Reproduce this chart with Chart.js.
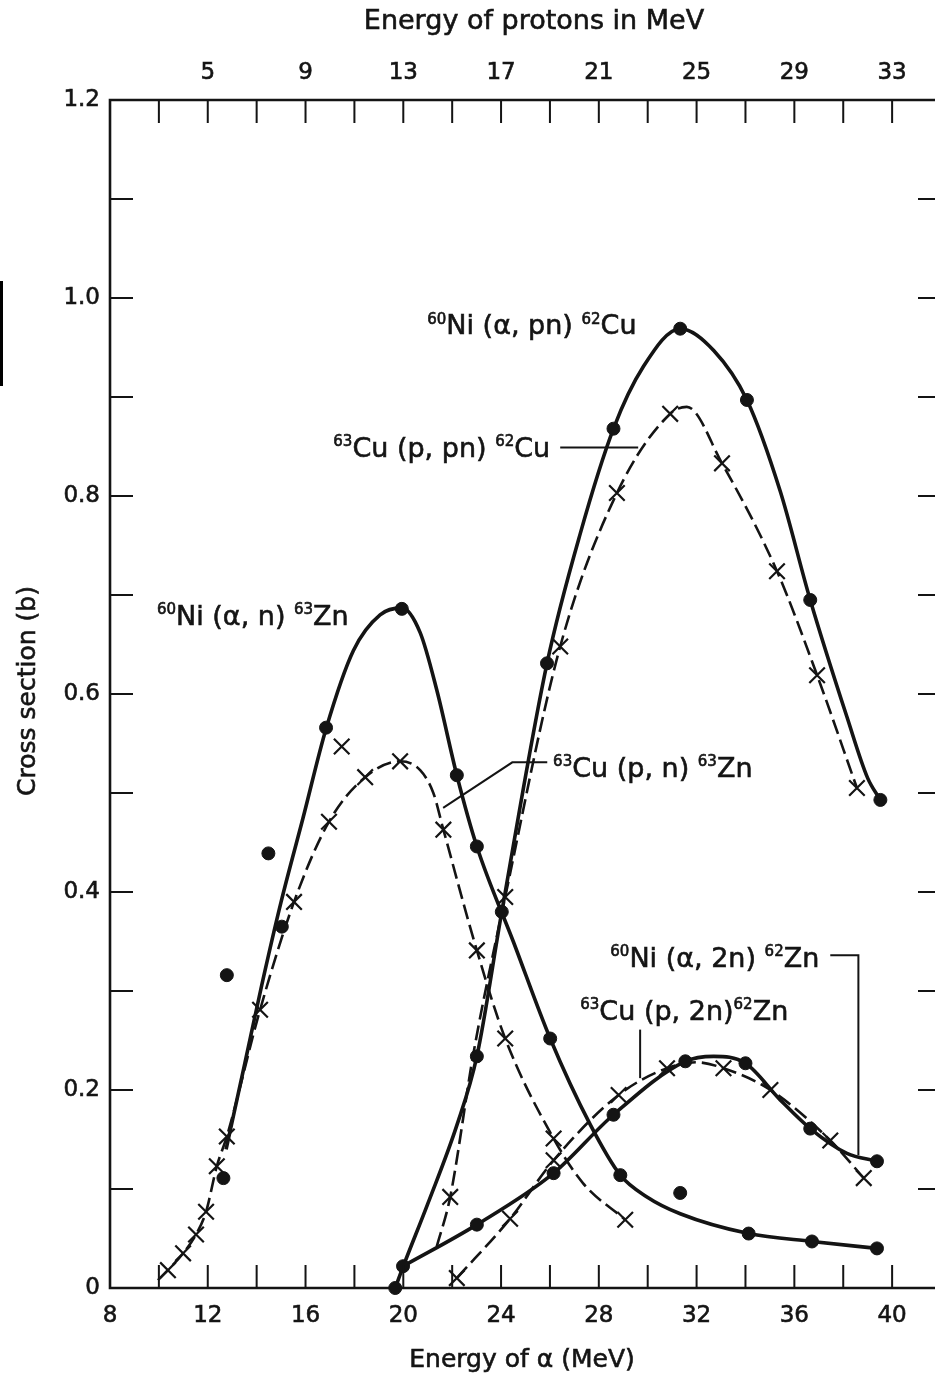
<!DOCTYPE html>
<html><head><meta charset="utf-8">
<script src="https://cdn.jsdelivr.net/npm/chart.js@4.4.1/dist/chart.umd.min.js"></script>
<style>
html,body{margin:0;padding:0;background:#fff;overflow:hidden;width:935px;height:1377px;}
#wrap{position:relative;width:935px;height:1377px;overflow:hidden;}
canvas{display:block;}
#scanbar{position:absolute;left:0;top:281px;width:3px;height:105px;background:#000;}
</style></head><body>
<div id="wrap"><canvas id="c" width="945" height="1377"></canvas><div id="scanbar"></div></div>
<script>
// ---------- values ----------
// 60Ni(α,n)63Zn : measured points (filled circles)
const niAnX = [12.64, 15.03, 16.84, 19.94, 22.19, 23.01, 26.01, 28.88, 34.13, 36.72, 39.38, 12.78, 14.48, 31.33];
const niAnY = [0.111, 0.365, 0.566, 0.686, 0.518, 0.446, 0.252, 0.114, 0.055, 0.047, 0.040, 0.316, 0.439, 0.096];
// 60Ni(α,n)63Zn : drawn curve
const niAnCurveX = [12.75, 13.5, 14.2, 15.0, 15.9, 16.84, 17.96, 19.05, 19.94, 20.69, 21.37, 22.19, 23.01, 24.5, 26.01, 27.65, 28.88, 29.97, 31.33, 34.13, 36.72, 39.38];
const niAnCurveY = [0.14, 0.225, 0.305, 0.39, 0.475, 0.565, 0.644, 0.680, 0.687, 0.662, 0.604, 0.518, 0.446, 0.350, 0.252, 0.165, 0.114, 0.092, 0.075, 0.055, 0.047, 0.040];

// 63Cu(p,n)63Zn : measured points (crosses)
const cuPnX = [10.37, 10.99, 11.52, 11.93, 12.37, 12.78, 14.14, 15.53, 16.96, 17.48, 18.44, 19.87, 21.64, 23.01, 24.17, 26.15, 29.08];
const cuPnY = [0.018, 0.035, 0.054, 0.077, 0.123, 0.153, 0.281, 0.390, 0.471, 0.547, 0.516, 0.532, 0.463, 0.341, 0.252, 0.151, 0.069];
// 63Cu(p,n)63Zn : drawn curve
const cuPnCurveX = [9.96, 10.37, 10.99, 11.52, 11.93, 12.37, 12.78, 14.14, 15.53, 16.96, 18.44, 19.87, 20.69, 21.23, 21.64, 23.01, 24.17, 26.15, 27.35, 29.08];
const cuPnCurveY = [0.008, 0.018, 0.035, 0.054, 0.077, 0.123, 0.153, 0.281, 0.390, 0.471, 0.516, 0.532, 0.523, 0.500, 0.463, 0.341, 0.252, 0.151, 0.106, 0.069];

// 60Ni(α,pn)62Cu : measured points
const niApnX = [19.67, 23.01, 24.03, 25.88, 28.60, 31.33, 34.06, 36.65, 39.52];
const niApnY = [0.000, 0.234, 0.380, 0.631, 0.868, 0.969, 0.897, 0.695, 0.493];
// 60Ni(α,pn)62Cu : drawn curve
const niApnCurveX = [19.67, 20.0, 21.0, 22.2, 23.01, 24.03, 25.88, 27.24, 28.60, 29.83, 31.33, 32.70, 34.06, 35.42, 36.65, 38.15, 39.0, 39.52];
const niApnCurveY = [0.000, 0.022, 0.085, 0.165, 0.234, 0.380, 0.631, 0.762, 0.868, 0.931, 0.969, 0.947, 0.897, 0.805, 0.695, 0.577, 0.515, 0.493];

// 63Cu(p,pn)62Cu : measured points
const cuPpnX = [21.92, 24.17, 26.42, 28.74, 30.92, 33.04, 35.29, 36.93, 38.56];
const cuPpnY = [0.092, 0.395, 0.648, 0.803, 0.883, 0.833, 0.724, 0.619, 0.505];
// 63Cu(p,pn)62Cu : drawn curve
const cuPpnCurveX = [21.37, 21.92, 22.87, 24.17, 26.42, 28.74, 30.92, 31.6, 33.04, 35.29, 36.93, 38.56];
const cuPpnCurveY = [0.042, 0.092, 0.237, 0.395, 0.648, 0.803, 0.883, 0.890, 0.833, 0.724, 0.619, 0.505];

// 60Ni(α,2n)62Zn : measured points
const niA2nX = [19.99, 23.01, 26.15, 28.60, 31.54, 34.00, 36.65, 39.38];
const niA2nY = [0.022, 0.064, 0.116, 0.175, 0.229, 0.227, 0.161, 0.128];
// 60Ni(α,2n)62Zn : drawn curve
const niA2nCurveX = [19.99, 23.01, 26.15, 28.60, 31.54, 32.70, 34.00, 35.42, 36.65, 38.15, 39.38];
const niA2nCurveY = [0.022, 0.064, 0.116, 0.175, 0.229, 0.234, 0.227, 0.190, 0.161, 0.136, 0.128];

// 63Cu(p,2n)62Zn : measured points
const cuP2nX = [22.19, 24.37, 26.15, 28.81, 30.79, 33.10, 35.02, 37.47, 38.84];
const cuP2nY = [0.010, 0.070, 0.129, 0.195, 0.222, 0.222, 0.200, 0.149, 0.111];
// 63Cu(p,2n)62Zn : drawn curve
const cuP2nCurveX = [22.19, 24.37, 26.15, 28.81, 30.79, 32.0, 33.10, 35.02, 37.47, 38.84];
const cuP2nCurveY = [0.010, 0.070, 0.129, 0.195, 0.222, 0.228, 0.222, 0.200, 0.149, 0.111];

// axis ticks / labels
const alphaTickLabels = [8, 12, 16, 20, 24, 28, 32, 36, 40];
const protonTickLabels = [5, 9, 13, 17, 21, 25, 29, 33];
const crossTickLabels = [0, 0.2, 0.4, 0.6, 0.8, 1.0, 1.2];

// ---------- presentation ----------
const INK = '#141414';
const FONT = "'DejaVu Sans', sans-serif";
const PROTON_SHIFT = 7;    // proton energy = alpha energy - 7 on the top axis
const X_MIN = 8, X_MAX = 42;      // right axis sits just past the cropped edge
const Y_MIN = 0, Y_MAX = 1.2;

const labelDefs = [
  {parts: [['60',1],['Ni (α, n) ',0],['63',1],['Zn',0]], x: 9.92, y: 0.680, align: 'left'},
  {parts: [['60',1],['Ni (α, pn) ',0],['62',1],['Cu',0]], x: 20.98, y: 0.973, align: 'left'},
  {parts: [['63',1],['Cu (p, pn) ',0],['62',1],['Cu',0]], x: 26.01, y: 0.849, align: 'right'},
  {parts: [['63',1],['Cu (p, n) ',0],['63',1],['Zn',0]], x: 26.13, y: 0.526, align: 'left'},
  {parts: [['60',1],['Ni (α, 2n) ',0],['62',1],['Zn',0]], x: 28.47, y: 0.334, align: 'left'},
  {parts: [['63',1],['Cu (p, 2n)',0],['62',1],['Zn',0]], x: 27.24, y: 0.281, align: 'left'}
];
const leaderDefs = [
  [[26.42, 0.849], [29.61, 0.849]],
  [[21.63, 0.485], [24.46, 0.531], [25.89, 0.531]],
  [[37.47, 0.336], [38.62, 0.336], [38.62, 0.134]],
  [[29.69, 0.261], [29.69, 0.212]]
];
const titleDefs = {
  top:    {text: 'Energy of protons in MeV', size: 27, cx: 534, cy: 22},
  bottom: {text: 'Energy of α (MeV)', size: 25, cx: 522, cy: 1360},
  left:   {text: 'Cross section (b)', size: 25, cx: 28, cy: 691}
};

function pts(xs, ys) { return xs.map((v, i) => ({x: v, y: ys[i]})); }

function curve(xs, ys, dashed) {
  return {
    data: pts(xs, ys), showLine: true, pointRadius: 0, pointHoverRadius: 0,
    borderColor: INK, borderWidth: dashed ? 2.6 : 3.6,
    borderDash: dashed ? [15, 6] : [], cubicInterpolationMode: 'monotone',
    fill: false, order: 2, clip: false
  };
}
function marks(xs, ys, cross) {
  return {
    data: pts(xs, ys), showLine: false,
    pointStyle: cross ? 'crossRot' : 'circle',
    pointRadius: cross ? 11 : 6.5, pointHoverRadius: cross ? 11 : 6.5,
    pointBorderWidth: cross ? 2.2 : 1,
    borderColor: INK, backgroundColor: INK, pointBackgroundColor: INK, pointBorderColor: INK,
    order: 1, clip: false
  };
}

function strokeFill(ctx, t, x, y) {
  ctx.strokeText(t, x, y);
  ctx.fillText(t, x, y);
}

function drawRich(ctx, parts, size, x, yc, align) {
  const supSize = 15;
  let total = 0;
  parts.forEach(([t, s]) => {
    ctx.font = (s ? supSize : size) + 'px ' + FONT;
    total += ctx.measureText(t).width;
  });
  let cx = align === 'right' ? x - total : x;
  const base = yc + size * 0.36;
  ctx.textAlign = 'left';
  ctx.textBaseline = 'alphabetic';
  parts.forEach(([t, s]) => {
    ctx.font = (s ? supSize : size) + 'px ' + FONT;
    strokeFill(ctx, t, cx, s ? base - size * 0.40 : base);
    cx += ctx.measureText(t).width;
  });
}

const decor = {
  id: 'decor',
  afterDraw(chart) {
    const {ctx, chartArea: a, scales: {x, x2, y}} = chart;
    const TICK = 23;
    ctx.save();
    ctx.strokeStyle = INK;
    ctx.fillStyle = INK;
    // frame
    ctx.lineWidth = 2.6;
    ctx.beginPath();
    ctx.moveTo(a.left, a.top); ctx.lineTo(a.left, a.bottom); ctx.lineTo(a.right, a.bottom); ctx.lineTo(a.right, a.top); ctx.closePath();
    ctx.stroke();
    // inward ticks
    ctx.lineWidth = 2;
    ctx.beginPath();
    x.ticks.forEach(t => { const p = x.getPixelForValue(t.value); ctx.moveTo(p, a.bottom); ctx.lineTo(p, a.bottom - TICK); });
    x2.ticks.forEach(t => { const p = x2.getPixelForValue(t.value); ctx.moveTo(p, a.top); ctx.lineTo(p, a.top + TICK); });
    y.ticks.forEach(t => {
      const p = y.getPixelForValue(t.value);
      ctx.moveTo(a.left, p); ctx.lineTo(a.left + TICK, p);
      ctx.moveTo(a.right, p); ctx.lineTo(a.right - TICK, p);
    });
    ctx.stroke();
    // leader lines
    ctx.lineWidth = 2;
    leaderDefs.forEach(seg => {
      ctx.beginPath();
      seg.forEach(([vx, vy], i) => {
        const px = x.getPixelForValue(vx), py = y.getPixelForValue(vy);
        if (i === 0) ctx.moveTo(px, py); else ctx.lineTo(px, py);
      });
      ctx.stroke();
    });
    // reaction labels
    ctx.lineWidth = 0.6;
    labelDefs.forEach(l => {
      drawRich(ctx, l.parts, 27, x.getPixelForValue(l.x), y.getPixelForValue(l.y), l.align);
    });
    // axis titles
    ctx.textAlign = 'center';
    ctx.textBaseline = 'middle';
    ['top', 'bottom'].forEach(k => {
      const d = titleDefs[k];
      ctx.font = d.size + 'px ' + FONT;
      strokeFill(ctx, d.text, d.cx, d.cy);
    });
    const L = titleDefs.left;
    ctx.save();
    ctx.translate(L.cx, L.cy);
    ctx.rotate(-Math.PI / 2);
    ctx.font = L.size + 'px ' + FONT;
    strokeFill(ctx, L.text, 0, 0);
    ctx.restore();
    ctx.restore();
  }
};

const datasets = [
  marks(niAnX, niAnY, false),
  marks(cuPnX, cuPnY, true),
  marks(niApnX, niApnY, false),
  marks(cuPpnX, cuPpnY, true),
  marks(niA2nX, niA2nY, false),
  marks(cuP2nX, cuP2nY, true),
  curve(niAnCurveX, niAnCurveY, false),
  curve(cuPnCurveX, cuPnCurveY, true),
  curve(niApnCurveX, niApnCurveY, false),
  curve(cuPpnCurveX, cuPpnCurveY, true),
  curve(niA2nCurveX, niA2nCurveY, false),
  curve(cuP2nCurveX, cuP2nCurveY, true)
];

const tickFont = {family: FONT, size: 23};
const near = (v, list) => list.some(q => Math.abs(q - v) < 1e-6);
const noPad = s => { s.paddingLeft = 0; s.paddingRight = 0; s.paddingTop = 0; s.paddingBottom = 0; };
const tickCommon = {autoSkip: false, maxRotation: 0, font: tickFont, color: INK, textStrokeWidth: 0.6, textStrokeColor: INK};

new Chart(document.getElementById('c'), {
  type: 'scatter',
  data: {datasets},
  options: {
    responsive: false, animation: false, devicePixelRatio: 1,
    layout: {autoPadding: false, padding: {left: 0, top: 0, bottom: 0, right: 4}},
    plugins: {legend: {display: false}, tooltip: {enabled: false}},
    scales: {
      x: {
        type: 'linear', position: 'bottom', min: X_MIN, max: X_MAX,
        afterFit(s) { s.height = 89; noPad(s); },
        grid: {display: false, drawTicks: false}, border: {display: false},
        ticks: Object.assign({}, tickCommon, {stepSize: 2, padding: 14,
          callback: v => near(v, alphaTickLabels) ? String(v) : ''})
      },
      x2: {
        type: 'linear', position: 'top', min: X_MIN - PROTON_SHIFT, max: X_MAX - PROTON_SHIFT,
        afterFit(s) { s.height = 100; noPad(s); },
        grid: {display: false, drawTicks: false}, border: {display: false},
        ticks: Object.assign({}, tickCommon, {stepSize: 2, padding: 13,
          callback: v => near(v, protonTickLabels) ? String(v) : ''})
      },
      y: {
        type: 'linear', position: 'left', min: Y_MIN, max: Y_MAX,
        afterFit(s) { s.width = 110; noPad(s); },
        grid: {display: false, drawTicks: false}, border: {display: false},
        ticks: Object.assign({}, tickCommon, {stepSize: 0.1, padding: 10,
          callback: v => near(v, crossTickLabels) ? (v === 0 ? '0' : v.toFixed(1)) : ''})
      }
    }
  },
  plugins: [decor]
});
</script>
</body></html>
